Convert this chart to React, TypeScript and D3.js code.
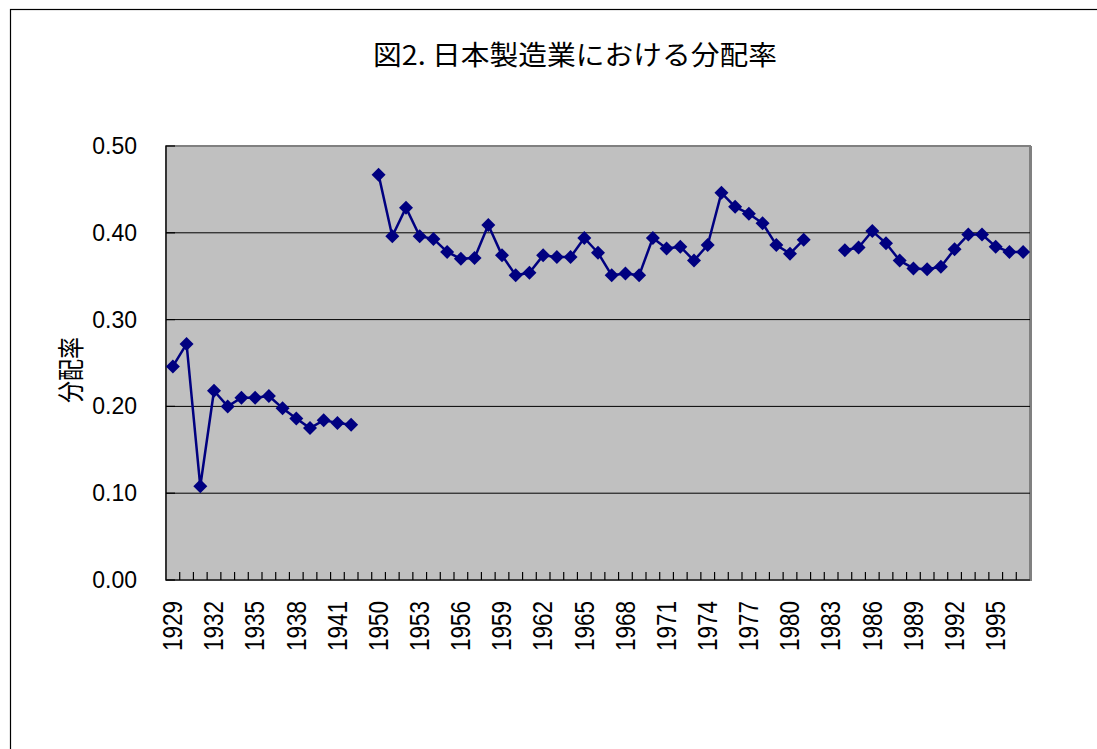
import React from 'react';
import * as d3 from 'd3';

// categories (1944-1949 are not in the table)
const years: number[] = [
  1929, 1930, 1931, 1932, 1933, 1934, 1935, 1936, 1937, 1938, 1939, 1940, 1941, 1942, 1943,
  1950, 1951, 1952, 1953, 1954, 1955, 1956, 1957, 1958, 1959, 1960, 1961, 1962, 1963, 1964,
  1965, 1966, 1967, 1968, 1969, 1970, 1971, 1972, 1973, 1974, 1975, 1976, 1977, 1978, 1979,
  1980, 1981, 1982, 1983, 1984, 1985, 1986, 1987, 1988, 1989, 1990, 1991, 1992, 1993, 1994,
  1995, 1996, 1997,
];

// 分配率 (null = no data)
const shares: (number | null)[] = [
  0.246, 0.272, 0.108, 0.218, 0.200, 0.210, 0.210, 0.212, 0.198, 0.186, 0.175, 0.184, 0.181, 0.179, null,
  0.467, 0.396, 0.429, 0.396, 0.393, 0.378, 0.370, 0.371, 0.409, 0.374, 0.351, 0.354, 0.374, 0.372, 0.372,
  0.394, 0.377, 0.351, 0.353, 0.351, 0.394, 0.382, 0.384, 0.368, 0.386, 0.446, 0.430, 0.422, 0.411, 0.386,
  0.376, 0.392, null, null, 0.380, 0.383, 0.402, 0.388, 0.368, 0.359, 0.358, 0.361, 0.381, 0.398, 0.398,
  0.384, 0.378, 0.378,
];

const yTicks = [0, 0.1, 0.2, 0.3, 0.4, 0.5];

const W = 1097;
const H = 749;
const plot = { left: 166, right: 1030, top: 146, bottom: 580 };

const latin = '"Liberation Sans", Arial, sans-serif';
const cjk = '"Noto Sans CJK JP", sans-serif';

export default function App() {
  const x = d3.scaleBand<string>()
    .domain(years.map(String))
    .range([plot.left, plot.right])
    .padding(0);
  const bw = x.bandwidth();
  const cx = (i: number) => (x(String(years[i])) as number) + bw / 2;

  const y = d3.scaleLinear().domain([0, 0.5]).range([plot.bottom, plot.top]);

  const line = d3.line<number | null>()
    .defined((d) => d != null)
    .x((d, i) => cx(i))
    .y((d) => y(d as number));

  const diamond = 'M0,-7L7,0L0,7L-7,0Z';

  return (
    <div style={{ position: 'absolute', left: 0, top: 0 }}>
      <svg width={W} height={H} style={{ display: 'block', background: '#fff' }}>
        {/* chart area border */}
        <rect x={10.5} y={9.5} width={1300} height={1000} fill="#fff" stroke="#000" strokeWidth={1.2} />

        {/* title */}
        <text
          x={575}
          y={65}
          textAnchor="middle"
          fontFamily={cjk}
          fontSize={27}
          textLength={404}
          lengthAdjust="spacingAndGlyphs"
          fill="#000"
        >
          図2. 日本製造業における分配率
        </text>

        {/* plot area */}
        <rect
          x={plot.left}
          y={plot.top}
          width={plot.right - plot.left}
          height={plot.bottom - plot.top}
          fill="#C0C0C0"
          stroke="#808080"
          strokeWidth={2}
        />
        <line x1={plot.right + 1} x2={plot.right + 1} y1={plot.top} y2={plot.bottom + 1} stroke="#808080" strokeWidth={2} />

        {/* gridlines */}
        {yTicks.slice(1, -1).map((t) => (
          <line key={t} x1={plot.left} x2={plot.right} y1={y(t)} y2={y(t)} stroke="#000" strokeWidth={1} />
        ))}

        {/* y axis */}
        <line x1={plot.left} x2={plot.left} y1={plot.top} y2={plot.bottom} stroke="#000" strokeWidth={1.2} />
        {yTicks.map((t) => (
          <g key={t}>
            <line x1={plot.left} x2={plot.left + 9} y1={y(t)} y2={y(t)} stroke="#000" strokeWidth={1.2} />
            <text
              x={137}
              y={y(t)}
              textAnchor="end"
              dominantBaseline="central"
              fontFamily={latin}
              fontSize={23}
              fill="#000"
            >
              {t.toFixed(2)}
            </text>
          </g>
        ))}

        {/* x axis */}
        <line x1={plot.left} x2={plot.right} y1={plot.bottom} y2={plot.bottom} stroke="#000" strokeWidth={1.2} />
        {years.map((yr, i) => {
          const bx = (x(String(yr)) as number) + bw;
          return i < years.length - 1 ? (
            <line key={yr} x1={bx} x2={bx} y1={plot.bottom} y2={plot.bottom - 8} stroke="#000" strokeWidth={1.2} />
          ) : null;
        })}
        {years.map((yr, i) =>
          i % 3 === 0 ? (
            <text
              key={yr}
              transform={`translate(${cx(i)},601) scale(1.2,1) rotate(-90)`}
              textAnchor="end"
              dominantBaseline="central"
              fontFamily={latin}
              fontSize={22.5}
              fill="#000"
            >
              {yr}
            </text>
          ) : null
        )}

        {/* y axis title */}
        <text
          transform={`translate(69,${(plot.top + plot.bottom) / 2 + 7}) scale(1.25,1) rotate(-90)`}
          textAnchor="middle"
          dominantBaseline="central"
          fontFamily={cjk}
          fontSize={22}
          fill="#000"
        >
          分配率
        </text>

        {/* series */}
        <path d={line(shares) ?? ''} fill="none" stroke="#000080" strokeWidth={2.5} strokeLinejoin="round" />
        {shares.map((v, i) =>
          v == null ? null : (
            <path key={i} d={diamond} transform={`translate(${cx(i)},${y(v)})`} fill="#000080" />
          )
        )}
      </svg>
    </div>
  );
}
